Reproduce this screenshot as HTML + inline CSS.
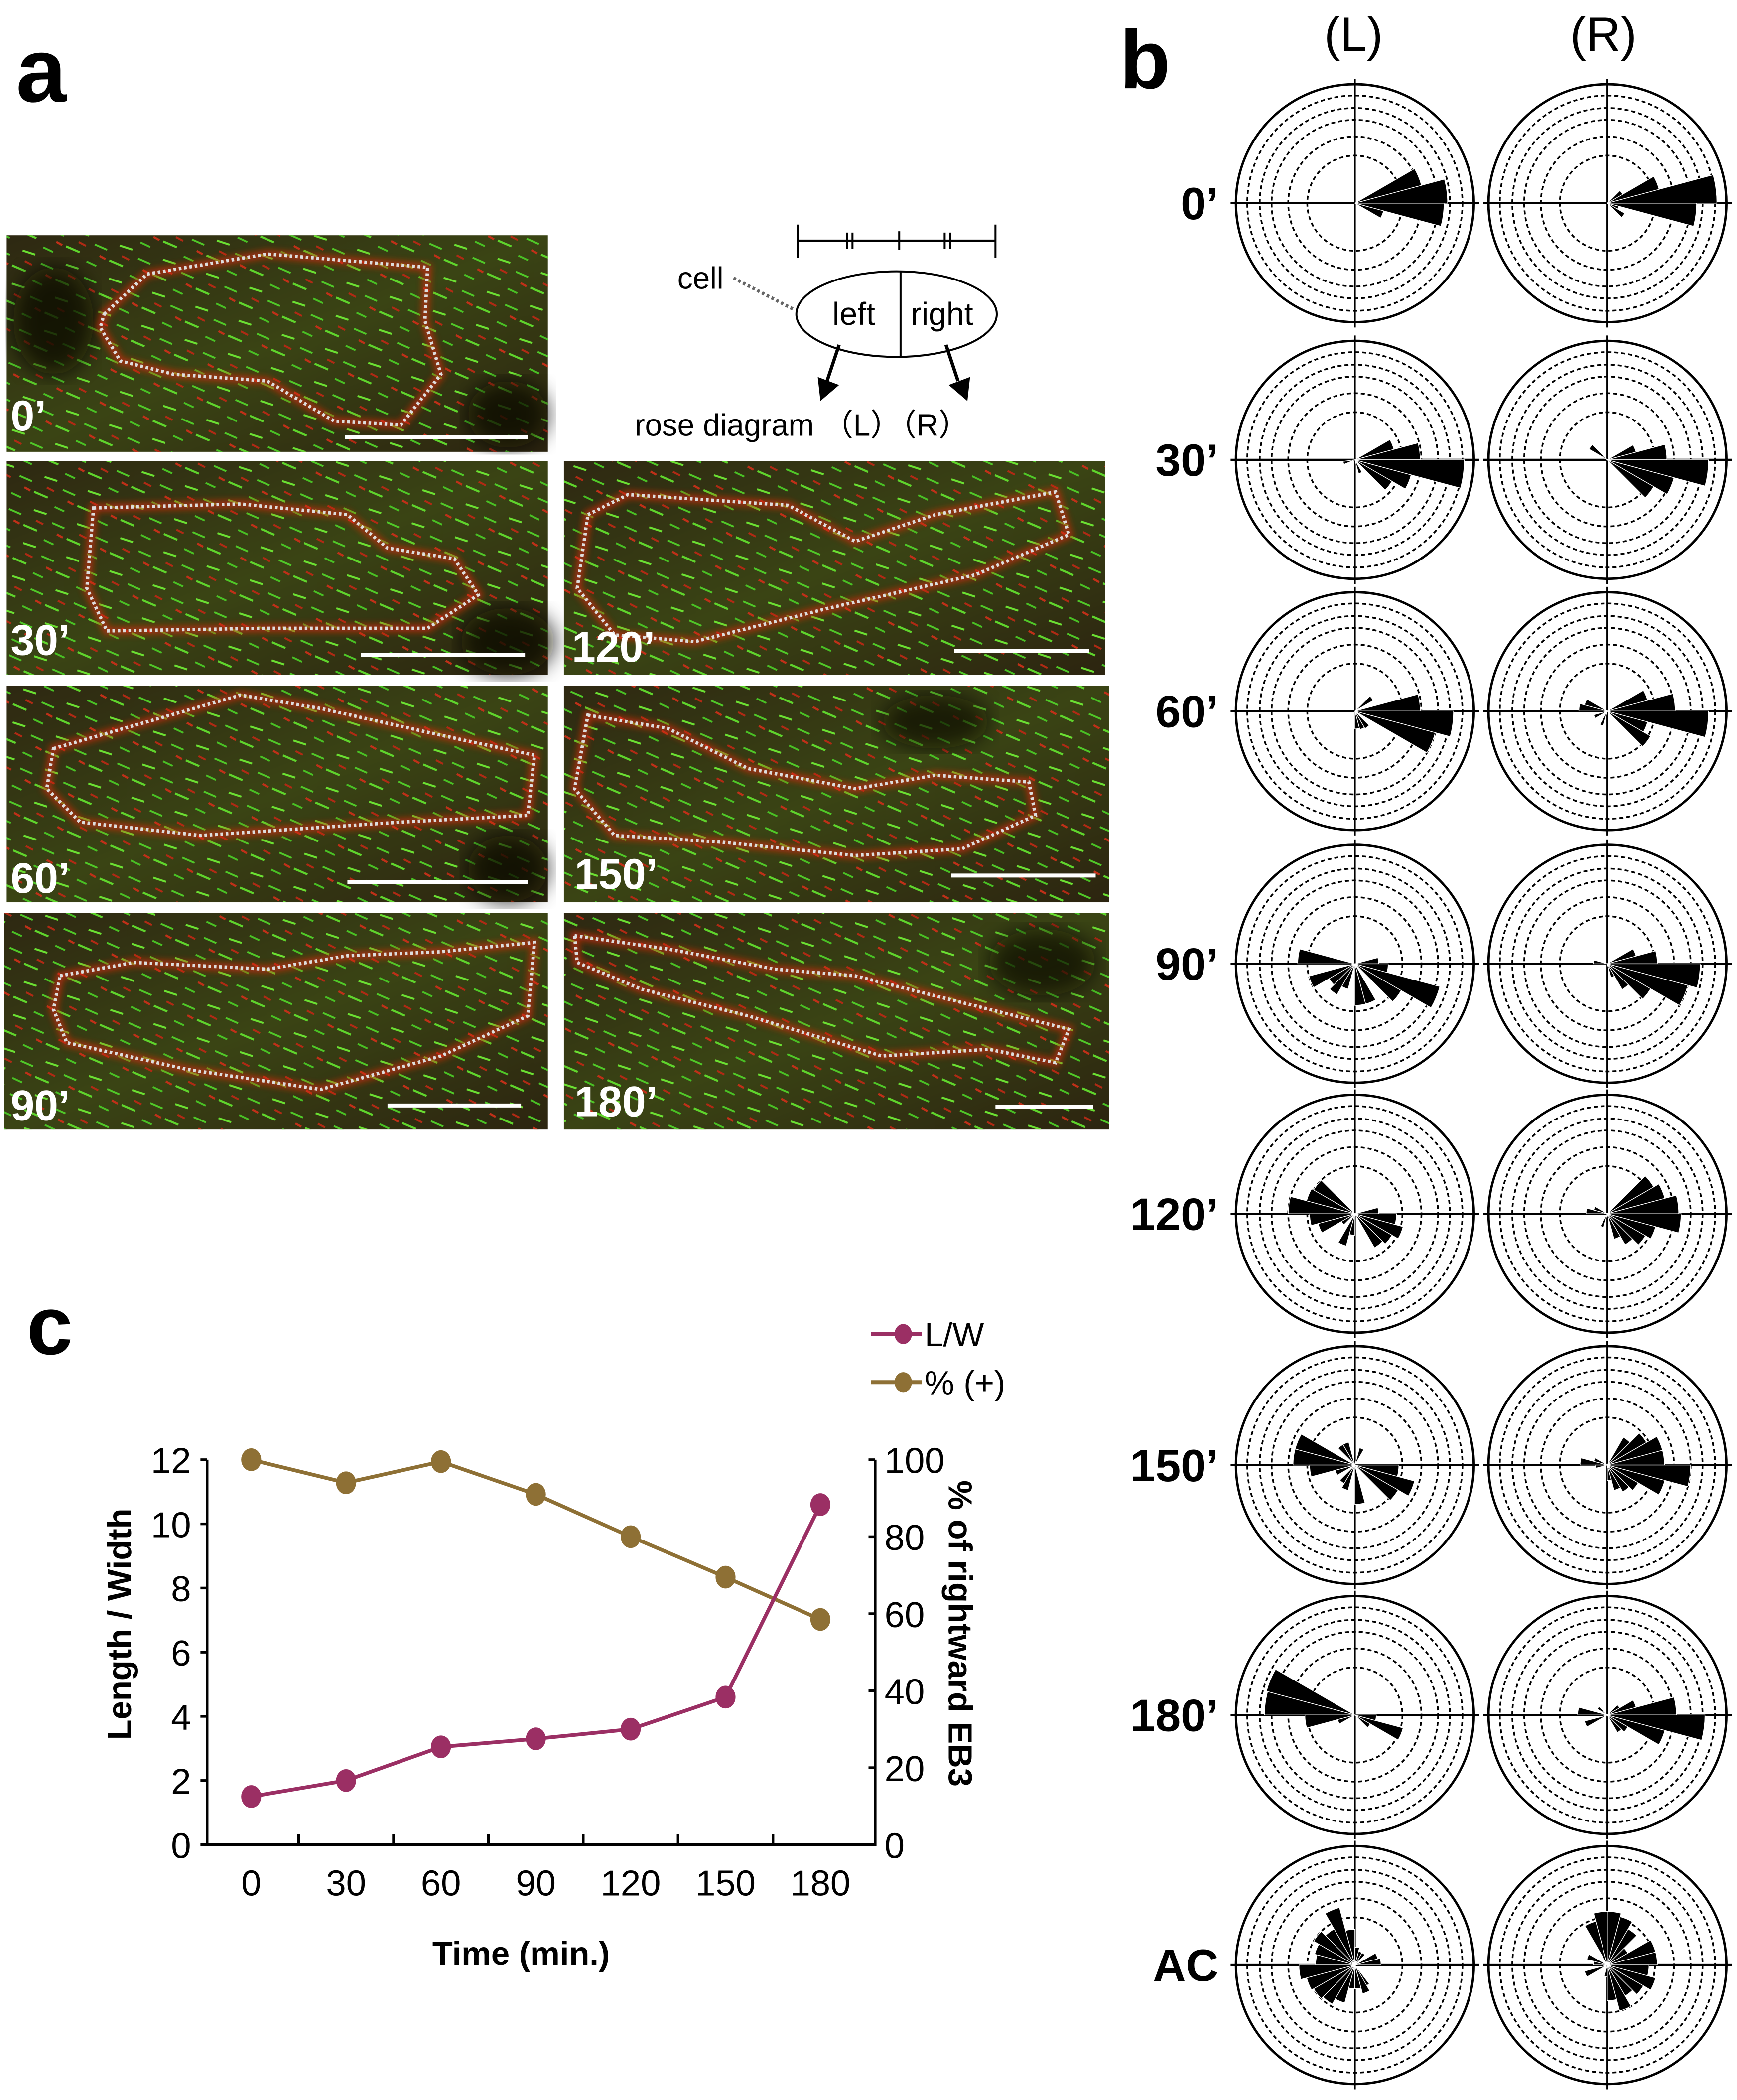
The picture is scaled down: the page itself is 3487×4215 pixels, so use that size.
<!DOCTYPE html>
<html><head><meta charset="utf-8"><style>
html,body{margin:0;padding:0;background:#fff}
svg{display:block}
text{font-family:"Liberation Sans",sans-serif}
</style></head><body>
<svg id="fig" xmlns="http://www.w3.org/2000/svg" width="3487" height="4215" viewBox="0 0 1300 1571" preserveAspectRatio="none">
<defs>
<pattern id="streaks" width="34" height="26" patternUnits="userSpaceOnUse" patternTransform="rotate(18)">
<line x1="2" y1="4" x2="13" y2="5" stroke="#5fd42c" stroke-width="1.6"/>
<line x1="20" y1="10" x2="28" y2="11" stroke="#49c024" stroke-width="1.4"/>
<line x1="6" y1="17" x2="16" y2="17" stroke="#6be032" stroke-width="1.5"/>
<line x1="22" y1="22" x2="32" y2="23" stroke="#50c828" stroke-width="1.4"/>
<line x1="28" y1="3" x2="33" y2="4" stroke="#c03018" stroke-width="1.6"/>
<line x1="10" y1="24" x2="16" y2="25" stroke="#b02a14" stroke-width="1.5"/>
</pattern>
<linearGradient id="bg" x1="0" y1="0" x2="1" y2="1">
<stop offset="0" stop-color="#2e2812"/><stop offset="0.5" stop-color="#3a4414"/><stop offset="1" stop-color="#2c2410"/>
</linearGradient>
<filter id="blur"><feGaussianBlur stdDeviation="2.5"/></filter>
<filter id="blur2"><feGaussianBlur stdDeviation="8"/></filter>
<clipPath id="legclip"><rect x="600" y="970" width="162" height="90"/></clipPath>
</defs>

<g>
<text x="12" y="76" font-size="68" font-weight="bold">a</text>
<g>
<rect x="5" y="176" width="405" height="162" fill="url(#bg)"/><rect x="5" y="176" width="405" height="162" fill="url(#streaks)"/>
<ellipse cx="40" cy="240" rx="30" ry="40" fill="#100c06" opacity="0.8" filter="url(#blur2)"/>
<ellipse cx="380" cy="310" rx="30" ry="25" fill="#100c06" opacity="0.8" filter="url(#blur2)"/>
<polygon points="78,235 110,205 200,190 320,200 318,240 330,280 300,318 250,315 200,285 130,280 90,270 75,245" fill="none" stroke="#d02a10" stroke-width="6" opacity="0.7" filter="url(#blur)"/>
<polygon points="78,235 110,205 200,190 320,200 318,240 330,280 300,318 250,315 200,285 130,280 90,270 75,245" fill="none" stroke="#ddd" stroke-width="2.5" stroke-dasharray="2 2"/>
<line x1="258" y1="327" x2="395" y2="327" stroke="#fff" stroke-width="3"/>
<text x="8" y="322" fill="#fff" font-size="32" font-weight="bold">0’</text></g>
<g>
<rect x="5" y="345" width="405" height="160" fill="url(#bg)"/><rect x="5" y="345" width="405" height="160" fill="url(#streaks)"/>
<ellipse cx="380" cy="480" rx="35" ry="25" fill="#100c06" opacity="0.8" filter="url(#blur2)"/>
<polygon points="70,380 180,377 260,385 290,410 340,418 358,445 320,470 200,470 80,472 65,440" fill="none" stroke="#d02a10" stroke-width="6" opacity="0.7" filter="url(#blur)"/>
<polygon points="70,380 180,377 260,385 290,410 340,418 358,445 320,470 200,470 80,472 65,440" fill="none" stroke="#ddd" stroke-width="2.5" stroke-dasharray="2 2"/>
<line x1="270" y1="490" x2="393" y2="490" stroke="#fff" stroke-width="3"/>
<text x="8" y="490" fill="#fff" font-size="32" font-weight="bold">30’</text></g>
<g>
<rect x="422" y="345" width="405" height="160" fill="url(#bg)"/><rect x="422" y="345" width="405" height="160" fill="url(#streaks)"/>
<polygon points="440,385 470,370 590,378 640,405 700,385 790,368 800,400 730,430 620,455 520,480 460,475 432,440" fill="none" stroke="#d02a10" stroke-width="6" opacity="0.7" filter="url(#blur)"/>
<polygon points="440,385 470,370 590,378 640,405 700,385 790,368 800,400 730,430 620,455 520,480 460,475 432,440" fill="none" stroke="#ddd" stroke-width="2.5" stroke-dasharray="2 2"/>
<line x1="714" y1="487" x2="815" y2="487" stroke="#fff" stroke-width="3"/>
<text x="428" y="495" fill="#fff" font-size="32" font-weight="bold">120’</text></g>
<g>
<rect x="5" y="513" width="405" height="162" fill="url(#bg)"/><rect x="5" y="513" width="405" height="162" fill="url(#streaks)"/>
<ellipse cx="380" cy="650" rx="30" ry="25" fill="#100c06" opacity="0.8" filter="url(#blur2)"/>
<polygon points="40,560 110,540 180,520 240,530 330,550 400,565 395,610 300,615 150,625 60,615 35,590" fill="none" stroke="#d02a10" stroke-width="6" opacity="0.7" filter="url(#blur)"/>
<polygon points="40,560 110,540 180,520 240,530 330,550 400,565 395,610 300,615 150,625 60,615 35,590" fill="none" stroke="#ddd" stroke-width="2.5" stroke-dasharray="2 2"/>
<line x1="260" y1="660" x2="395" y2="660" stroke="#fff" stroke-width="3"/>
<text x="8" y="668" fill="#fff" font-size="32" font-weight="bold">60’</text></g>
<g>
<rect x="422" y="513" width="408" height="162" fill="url(#bg)"/><rect x="422" y="513" width="408" height="162" fill="url(#streaks)"/>
<ellipse cx="700" cy="540" rx="40" ry="20" fill="#100c06" opacity="0.7" filter="url(#blur2)"/>
<polygon points="440,535 500,545 560,575 640,590 700,580 770,585 775,610 720,635 640,640 540,630 460,625 430,590" fill="none" stroke="#d02a10" stroke-width="6" opacity="0.7" filter="url(#blur)"/>
<polygon points="440,535 500,545 560,575 640,590 700,580 770,585 775,610 720,635 640,640 540,630 460,625 430,590" fill="none" stroke="#ddd" stroke-width="2.5" stroke-dasharray="2 2"/>
<line x1="712" y1="655" x2="820" y2="655" stroke="#fff" stroke-width="3"/>
<text x="430" y="665" fill="#fff" font-size="32" font-weight="bold">150’</text></g>
<g>
<rect x="3" y="683" width="407" height="162" fill="url(#bg)"/><rect x="3" y="683" width="407" height="162" fill="url(#streaks)"/>
<polygon points="45,730 100,720 200,725 260,715 330,712 400,705 395,760 330,790 240,815 140,800 50,780 40,755" fill="none" stroke="#d02a10" stroke-width="6" opacity="0.7" filter="url(#blur)"/>
<polygon points="45,730 100,720 200,725 260,715 330,712 400,705 395,760 330,790 240,815 140,800 50,780 40,755" fill="none" stroke="#ddd" stroke-width="2.5" stroke-dasharray="2 2"/>
<line x1="290" y1="827" x2="390" y2="827" stroke="#fff" stroke-width="3"/>
<text x="8" y="838" fill="#fff" font-size="32" font-weight="bold">90’</text></g>
<g>
<rect x="422" y="683" width="408" height="162" fill="url(#bg)"/><rect x="422" y="683" width="408" height="162" fill="url(#streaks)"/>
<ellipse cx="780" cy="720" rx="40" ry="25" fill="#100c06" opacity="0.7" filter="url(#blur2)"/>
<polygon points="430,700 500,710 580,725 640,730 700,745 760,760 800,770 790,795 740,785 660,790 560,760 480,740 432,720" fill="none" stroke="#d02a10" stroke-width="6" opacity="0.7" filter="url(#blur)"/>
<polygon points="430,700 500,710 580,725 640,730 700,745 760,760 800,770 790,795 740,785 660,790 560,760 480,740 432,720" fill="none" stroke="#ddd" stroke-width="2.5" stroke-dasharray="2 2"/>
<line x1="745" y1="828" x2="818" y2="828" stroke="#fff" stroke-width="3"/>
<text x="430" y="835" fill="#fff" font-size="32" font-weight="bold">180’</text></g>

<g stroke="#000" fill="none" stroke-width="1.5">
<line x1="597" y1="180" x2="745" y2="180"/>
<line x1="597" y1="168" x2="597" y2="193"/><line x1="745" y1="168" x2="745" y2="193"/>
<line x1="673" y1="173" x2="673" y2="187"/>
<line x1="634" y1="174" x2="634" y2="186"/><line x1="638" y1="174" x2="638" y2="186"/>
<line x1="707" y1="174" x2="707" y2="186"/><line x1="711" y1="174" x2="711" y2="186"/>
<ellipse cx="671" cy="235" rx="75" ry="32"/>
<line x1="674" y1="203" x2="674" y2="268"/>
<line x1="549" y1="208" x2="595" y2="232" stroke="#666" stroke-width="2.5" stroke-dasharray="2 2"/>
<line x1="628" y1="258" x2="619" y2="285" stroke-width="2.5"/>
<polygon points="612,282 628,288 614,300" fill="#000" stroke="none"/>
<line x1="708" y1="258" x2="717" y2="285" stroke-width="2.5"/>
<polygon points="710,288 726,282 724,300" fill="#000" stroke="none"/>
</g>
<text x="507" y="216" font-size="23">cell</text>
<text x="639" y="243" font-size="24" text-anchor="middle">left</text>
<text x="705" y="243" font-size="24" text-anchor="middle">right</text>
<text x="475" y="326" font-size="23">rose diagram （L）（R）</text>
</g>

<g id="panelb">
<text x="838" y="66" font-size="62" font-weight="bold">b</text>
<text x="1013" y="38" font-size="36" text-anchor="middle">(L)</text>
<text x="1200" y="38" font-size="36" text-anchor="middle">(R)</text>
</g>

<g id="panelc">
<text x="20" y="1013" font-size="62" font-weight="bold">c</text>
</g>
</svg>
<script>
// ---------- Chart c data ----------
const times = [0, 30, 60, 90, 120, 150, 180];
const lwValues = [1.5, 2.0, 3.05, 3.3, 3.6, 4.6, 10.6];
const pctValues = [100, 94, 99.5, 91, 80, 69.5, 58.5];
const leftTicks = [0, 2, 4, 6, 8, 10, 12];
const rightTicks = [0, 20, 40, 60, 80, 100];

// ---------- Rose diagram data: [bin centre angle (deg, CCW from east), length fraction of outer ring] ----------
const rowLabels = ["0’", "30’", "60’", "90’", "120’", "150’", "180’", "AC"];
const roseL0 = [[7.5,0.78],[22.5,0.58],[-7.5,0.75],[-22.5,0.25]];
const roseR0 = [[7.5,0.92],[22.5,0.45],[37.5,0.15],[-7.5,0.75],[-22.5,0.1],[-37.5,0.17]];
const roseL30 = [[22.5,0.34],[7.5,0.55],[-7.5,0.92],[-22.5,0.49],[-37.5,0.36],[-67.5,0.12],[-165,0.1]];
const roseR30 = [[142.5,0.18],[22.5,0.25],[7.5,0.5],[-7.5,0.85],[-22.5,0.58],[-37.5,0.45]];
const roseL60 = [[37.5,0.18],[7.5,0.55],[-7.5,0.83],[-22.5,0.7],[-52.5,0.17],[-67.5,0.16],[-82.5,0.15]];
const roseR60 = [[157.5,0.2],[172.5,0.24],[-157.5,0.12],[-112.5,0.13],[22.5,0.35],[7.5,0.57],[-7.5,0.85],[-22.5,0.35],[-37.5,0.42]];
const roseL90 = [[172.5,0.48],[-157.5,0.4],[-142.5,0.25],[-127.5,0.3],[-112.5,0.22],[-82.5,0.35],[-67.5,0.35],[-37.5,0.45],[-22.5,0.74],[7.5,0.2],[-7.5,0.28]];
const roseR90 = [[172.5,0.12],[22.5,0.25],[7.5,0.42],[-7.5,0.78],[-22.5,0.7],[-37.5,0.42],[-52.5,0.25],[-67.5,0.12]];
const roseL120 = [[172.5,0.56],[157.5,0.42],[142.5,0.4],[-172.5,0.38],[-157.5,0.32],[-142.5,0.13],[-112.5,0.28],[-97.5,0.18],[7.5,0.2],[-7.5,0.35],[-22.5,0.42],[-37.5,0.36],[-52.5,0.33]];
const roseR120 = [[172.5,0.18],[157.5,0.12],[-112.5,0.12],[37.5,0.45],[22.5,0.5],[7.5,0.6],[-7.5,0.62],[-22.5,0.42],[-37.5,0.37],[-52.5,0.3],[-67.5,0.22]];
const roseL150 = [[157.5,0.52],[172.5,0.52],[-172.5,0.38],[127.5,0.2],[112.5,0.2],[67.5,0.15],[-157.5,0.17],[-127.5,0.18],[-112.5,0.22],[-82.5,0.33],[-7.5,0.37],[-22.5,0.52],[-37.5,0.42]];
const roseR150 = [[37.5,0.38],[52.5,0.27],[22.5,0.48],[7.5,0.48],[-7.5,0.7],[-22.5,0.5],[-37.5,0.3],[-52.5,0.26],[-67.5,0.22],[-82.5,0.13],[172.5,0.23],[-172.5,0.1],[157.5,0.12]];
const roseL180 = [[157.5,0.77],[172.5,0.76],[-172.5,0.42],[-157.5,0.15],[-22.5,0.42],[-7.5,0.18],[-37.5,0.15]];
const roseR180 = [[7.5,0.58],[22.5,0.25],[37.5,0.12],[-7.5,0.82],[-22.5,0.5],[-37.5,0.2],[-52.5,0.17],[172.5,0.25],[-157.5,0.2],[142.5,0.1]];
const roseLAC = [[7.5,0.22],[22.5,0.2],[-60,0.2],[97.5,0.3],[112.5,0.5],[127.5,0.35],[142.5,0.4],[157.5,0.35],[172.5,0.33],[-172.5,0.47],[-157.5,0.42],[-142.5,0.4],[-127.5,0.38],[-112.5,0.33],[-97.5,0.2],[-82.5,0.2],[-67.5,0.25],[52.5,0.12],[67.5,0.12],[82.5,0.15]];
const roseRAC = [[82.5,0.45],[97.5,0.45],[67.5,0.42],[112.5,0.38],[52.5,0.35],[37.5,0.2],[22.5,0.42],[7.5,0.42],[-7.5,0.35],[-22.5,0.42],[-37.5,0.35],[-52.5,0.3],[-67.5,0.4],[-82.5,0.3],[-97.5,0.1],[157.5,0.18],[-157.5,0.2],[172.5,0.12]];
const roseLeft = [roseL0, roseL30, roseL60, roseL90, roseL120, roseL150, roseL180, roseLAC];
const roseRight = [roseR0, roseR30, roseR60, roseR90, roseR120, roseR150, roseR180, roseRAC];

const NS = "http://www.w3.org/2000/svg";
function mk(tag, attrs, parent) {
  const e = document.createElementNS(NS, tag);
  for (const k in attrs) e.setAttribute(k, attrs[k]);
  parent.appendChild(e);
  return e;
}

// ---------- Panel b ----------
const pb = document.getElementById("panelb");
const rowY = [152, 344, 532, 721, 908, 1096, 1283, 1470];
const colX = [1014, 1203];
const R = 89;
const rings = [0.4, 0.56, 0.7, 0.8, 0.905];
function rose(cx, cy, bins, name) {
  const g = mk("g", {}, pb);
  
  
  mk("circle", {cx: cx, cy: cy, r: R, fill: "none", stroke: "#000", "stroke-width": 1.8}, g);
  rings.forEach(f => mk("circle", {cx: cx, cy: cy, r: R * f, fill: "none", stroke: "#000", "stroke-width": 1.3, "stroke-dasharray": "3 2.2"}, g));
  mk("line", {x1: cx - R - 4, y1: cy, x2: cx + R + 4, y2: cy, stroke: "#000", "stroke-width": 1.6}, g);
  mk("line", {x1: cx, y1: cy - R - 4, x2: cx, y2: cy + R + 4, stroke: "#000", "stroke-width": 1.3}, g);
  bins.forEach(b => {
    const r = b[1] * R;
    const a1 = (b[0] - 7.5) * Math.PI / 180, a2 = (b[0] + 7.5) * Math.PI / 180;
    const d = `M${cx},${cy} L${cx + r * Math.cos(a1)},${cy - r * Math.sin(a1)} A${r},${r} 0 0 0 ${cx + r * Math.cos(a2)},${cy - r * Math.sin(a2)} Z`;
    const w = mk("path", {d: d, fill: "#000", stroke: "#fff", "stroke-width": 0.5}, g);
    
    
  });
}
rowLabels.forEach((lab, i) => {
  const t = mk("text", {x: 912, y: rowY[i] + 12, "font-size": 34, "font-weight": "bold", "text-anchor": "end"}, pb);
  t.textContent = lab;
  
  
  rose(colX[0], rowY[i], roseLeft[i], "rose-left");
  rose(colX[1], rowY[i], roseRight[i], "rose-right");
});

// ---------- Panel c ----------
const pc = document.getElementById("panelc");
const X0 = 155, X1 = 655, Y0 = 1380, Y1 = 1092;
const xs = t => 188 + t * (614 - 188) / 180;
const yl = v => Y0 - v * (Y0 - Y1) / 12;
const yr = v => Y0 - v * (Y0 - Y1) / 100;
const axis = mk("path", {d: `M${X0},${Y1} L${X0},${Y0} L${X1},${Y0} L${X1},${Y1}`, fill: "none", stroke: "#000", "stroke-width": 2}, pc);


leftTicks.forEach(v => {
  mk("line", {x1: X0 - 5, y1: yl(v), x2: X0, y2: yl(v), stroke: "#000", "stroke-width": 2}, pc);
  const t = mk("text", {x: X0 - 12, y: yl(v) + 10, "font-size": 27, "text-anchor": "end"}, pc);
  t.textContent = v;
  
  
});
rightTicks.forEach(v => {
  mk("line", {x1: X1 - 5, y1: yr(v), x2: X1, y2: yr(v), stroke: "#000", "stroke-width": 2}, pc);
  const t = mk("text", {x: X1 + 7, y: yr(v) + 10, "font-size": 27}, pc);
  t.textContent = v;
  
  
});
times.forEach((tm, i) => {
  if (i < times.length - 1) mk("line", {x1: xs(tm + 15), y1: Y0 - 8, x2: xs(tm + 15), y2: Y0, stroke: "#000", "stroke-width": 2}, pc);
  const t = mk("text", {x: xs(tm), y: Y0 + 38, "font-size": 27, "text-anchor": "middle"}, pc);
  t.textContent = tm;
  
  
});
function series(vals, yf, color, name) {
  const g = mk("g", {}, pc);
  
  
  mk("polyline", {points: vals.map((v, i) => `${xs(times[i])},${yf(v)}`).join(" "), fill: "none", stroke: color, "stroke-width": 2.8}, g);
  vals.forEach((v, i) => {
    const c = mk("ellipse", {cx: xs(times[i]), cy: yf(v), rx: 7.5, ry: 8.5, fill: color}, g);
    
    
  });
}
series(pctValues, yr, "#8e7035", "series-percent-rightward");
series(lwValues, yl, "#9b2f64", "series-length-width");
const ylab = mk("text", {x: 0, y: 0, "font-size": 25, "font-weight": "bold", "text-anchor": "middle", transform: "translate(98,1215) rotate(-90)"}, pc);
ylab.textContent = "Length / Width";


const y2lab = mk("text", {x: 0, y: 0, "font-size": 25, "font-weight": "bold", "text-anchor": "middle", transform: "translate(710,1222) rotate(90)"}, pc);
y2lab.textContent = "% of rightward EB3";


const xlab = mk("text", {x: 390, y: 1470, "font-size": 25, "font-weight": "bold", "text-anchor": "middle"}, pc);
xlab.textContent = "Time (min.)";


// legend
const leg = mk("g", {"clip-path": "url(#legclip)"}, pc);


[["L/W", "#9b2f64", 998], ["% (+)", "#8e7035", 1034]].forEach(e => {
  const g = mk("g", {}, leg);
  
  
  mk("line", {x1: 652, y1: e[2], x2: 690, y2: e[2], stroke: e[1], "stroke-width": 3}, g);
  mk("ellipse", {cx: 676, cy: e[2], rx: 6.5, ry: 7.5, fill: e[1]}, g);
  const t = mk("text", {x: 692, y: e[2] + 9, "font-size": 25}, g);
  t.textContent = e[0];
});
</script>
</body></html>
